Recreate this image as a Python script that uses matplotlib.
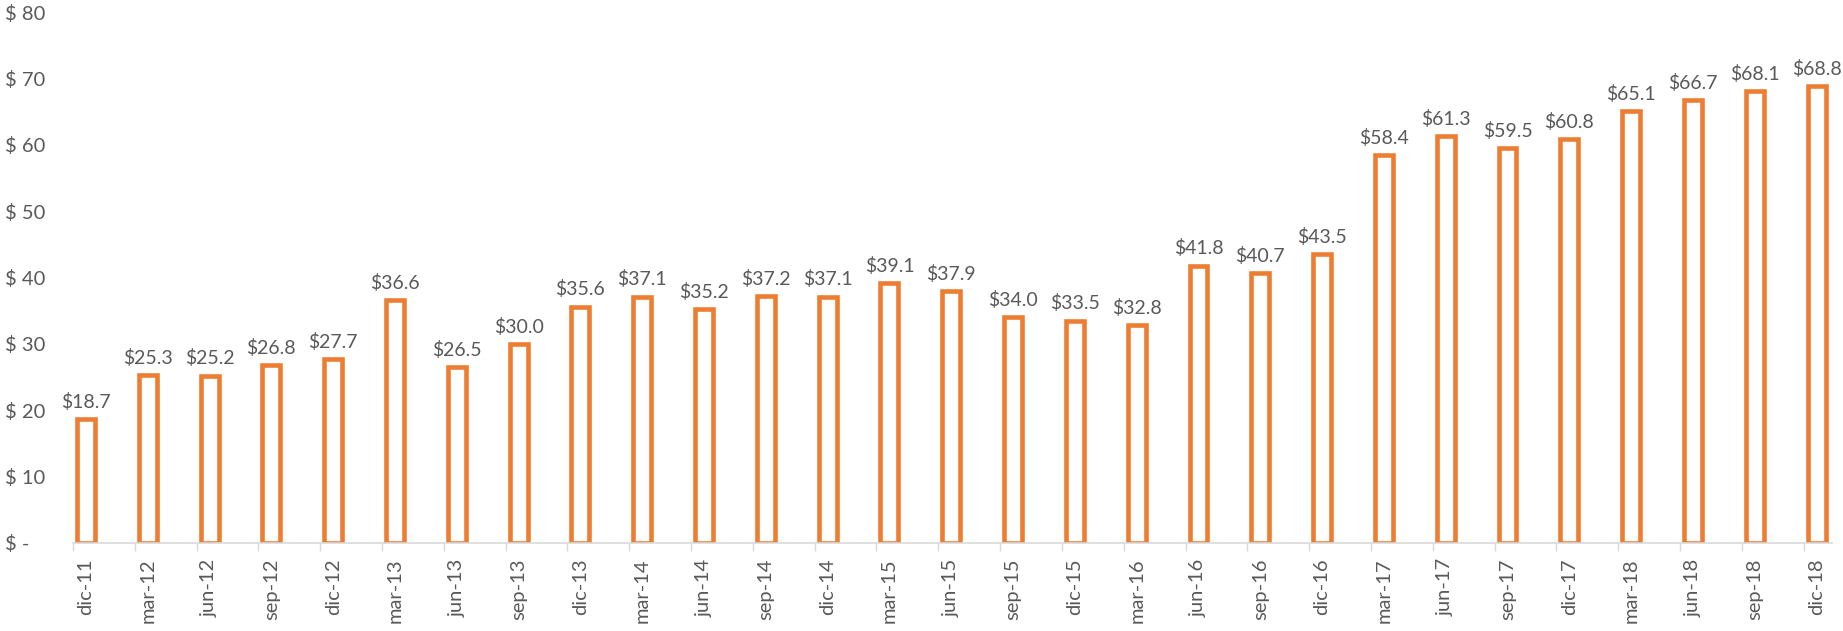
import matplotlib
matplotlib.use("Agg")
import matplotlib.pyplot as plt
import numpy as np

categories = ["dic-11", "mar-12", "jun-12", "sep-12", "dic-12", "mar-13", "jun-13", "sep-13",
              "dic-13", "mar-14", "jun-14", "sep-14", "dic-14", "mar-15", "jun-15", "sep-15",
              "dic-15", "mar-16", "jun-16", "sep-16", "dic-16", "mar-17", "jun-17", "sep-17",
              "dic-17", "mar-18", "jun-18", "sep-18", "dic-18"]
values = [18.7, 25.3, 25.2, 26.8, 27.7, 36.6, 26.5, 30.0, 35.6, 37.1, 35.2, 37.2, 37.1, 39.1,
          37.9, 34.0, 33.5, 32.8, 41.8, 40.7, 43.5, 58.4, 61.3, 59.5, 60.8, 65.1, 66.7, 68.1, 68.8]
yticks = [0, 10, 20, 30, 40, 50, 60, 70, 80]
ytick_labels = ["$ -", "$ 10", "$ 20", "$ 30", "$ 40", "$ 50", "$ 60", "$ 70", "$ 80"]

plt.rcParams['font.family'] = ['Lato', 'DejaVu Sans']
text_color = "#595959"
orange = "#ED7D31"

W, H = 1843, 631
fig = plt.figure(figsize=(W / 100, H / 100), dpi=100)
left_px, right_px, bottom_px, top_px = 73, 1832, 543, 12
ax = fig.add_axes([left_px / W, (H - bottom_px) / H, (right_px - left_px) / W, (bottom_px - top_px) / H])

x = np.arange(len(categories))
ax.bar(x, values, width=0.29, color="white", edgecolor=orange, linewidth=3.3, zorder=3)

for xi, v in zip(x, values):
    ax.annotate(f"${v:.1f}", (xi, v), xytext=(0, 6), textcoords="offset points",
                ha="center", va="bottom", fontsize=14, color=text_color)

ax.set_xlim(-0.21, len(categories) - 1 + 0.25)
ax.set_ylim(0, 80)

ax.set_xticks(x)
ax.set_xticklabels(categories, rotation=90, fontsize=14.5, color=text_color)
ax.set_xticks(x - 0.21, minor=True)
ax.tick_params(axis="x", which="major", length=0, pad=11)
ax.tick_params(axis="x", which="minor", length=6, width=1, color="#D9D9D9")

ax.set_yticks(yticks)
ax.set_yticklabels(ytick_labels, fontsize=14.5, color=text_color, ha="left")
ax.tick_params(axis="y", length=0, pad=49)

for s in ["top", "right", "left"]:
    ax.spines[s].set_visible(False)
ax.spines["bottom"].set_color("#D9D9D9")
ax.spines["bottom"].set_linewidth(1.2)
ax.spines["bottom"].set_zorder(4)

fig.savefig("out.png", dpi=100, facecolor="white")
